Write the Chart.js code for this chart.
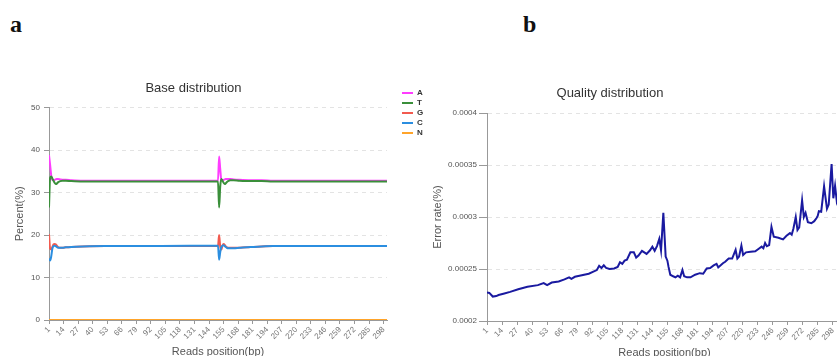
<!DOCTYPE html>
<html lang="en">

<head>
  <meta charset="UTF-8">
  <title>Base and quality distribution</title>
  <script src="https://cdn.jsdelivr.net/npm/chart.js"></script>
  <style>
    html, body { margin: 0; padding: 0; width: 837px; height: 356px; overflow: hidden; background: #fff; }
    .tag { position: absolute; font: bold 24px 'Liberation Serif', 'DejaVu Serif', serif; color: #111; line-height: 24px; }
    .box { position: absolute; }
  </style>
</head>

<body>
  <div class="tag" style="left:10px;top:12px">a</div>
  <div class="tag" style="left:523px;top:12px">b</div>
  <div class="box" style="left:-43px;top:70px;width:473px;height:300px"><canvas id="baseChart"></canvas></div>
  <div class="box" style="left:378px;top:70px;width:464px;height:301px"><canvas id="qualityChart"></canvas></div>
</body>

<script>
  // x tick labels (one every 13 positions)
  const xTickLabels = ['1', '14', '27', '40', '53', '66', '79', '92', '105', '118', '131', '144',
    '155', '168', '181', '194', '207', '220', '233', '246', '259', '272', '285', '298']

  // base distribution, position index along the read
  const basePos = [0, 1, 2, 3, 4, 5, 6, 7, 8, 10, 12, 15, 20, 30, 50, 100, 151, 152, 153, 154,
    155, 156, 157, 158, 159, 160, 162, 165, 170, 180, 190, 200, 250, 302]
  const baseA = [38.8, 36.5, 34.0, 33.0, 32.9, 33.0, 33.1, 33.2, 33.2, 33.1, 33.0, 33.0, 32.9, 32.8, 32.8, 32.8, 32.8, 38.5, 35.5, 33.0,
    32.9, 33.0, 33.1, 33.2, 33.2, 33.2, 33.2, 33.1, 33.0, 32.9, 32.9, 32.8, 32.8, 32.8]
  const baseT = [26.5, 33.5, 33.8, 33.3, 32.8, 32.3, 32.0, 32.1, 32.4, 32.7, 32.8, 32.8, 32.7, 32.6, 32.6, 32.6, 32.6, 26.5, 31.5, 33.2,
    32.8, 32.3, 32.0, 32.2, 32.5, 32.7, 32.9, 32.9, 32.8, 32.7, 32.7, 32.6, 32.6, 32.6]
  const baseG = [20.2, 16.8, 16.6, 17.2, 17.8, 17.9, 17.8, 17.5, 17.2, 17.0, 17.0, 17.1, 17.2, 17.3, 17.4, 17.4, 17.4, 20.0, 17.2, 16.6,
    17.5, 17.9, 17.7, 17.3, 17.1, 17.0, 17.0, 17.0, 17.0, 17.2, 17.3, 17.4, 17.4, 17.4]
  const baseC = [14.5, 14.0, 15.0, 16.8, 17.4, 17.5, 17.4, 17.2, 17.0, 17.0, 17.0, 17.1, 17.2, 17.3, 17.4, 17.4, 17.5, 14.2, 16.0, 17.2,
    17.5, 17.6, 17.4, 17.2, 17.0, 16.9, 16.9, 16.9, 17.0, 17.2, 17.3, 17.4, 17.4, 17.4]
  const baseN = [0, 0, 0, 0, 0, 0, 0, 0, 0, 0, 0, 0, 0, 0, 0, 0, 0, 0, 0, 0,
    0, 0, 0, 0, 0, 0, 0, 0, 0, 0, 0, 0, 0, 0]

  // quality distribution
  const qualityPos = [0, 2, 5, 8, 10, 15, 20, 27, 35, 44, 49, 52, 56, 62, 67, 71, 73, 76, 82, 88,
    92, 95, 97, 99, 101, 103, 106, 110, 113, 115, 117, 119, 121, 124, 127, 129, 131, 134, 136, 138,
    141, 143, 145, 147, 149, 150.5, 152.5, 154.5, 156, 157, 158.5, 161, 163, 165, 167, 169, 170.5, 173, 176, 180,
    184, 187, 190, 193, 196, 198.5, 200, 204, 206, 209, 212, 215, 216.5, 218, 220, 221.5, 224, 228, 232, 235,
    237.5, 239, 240.5, 242, 244, 246, 248, 252, 256, 259, 262, 263.5, 265, 267, 268.5, 270, 272.5, 274, 275.5, 277.5,
    280.5, 283, 285, 286, 287, 289, 291.5, 294, 295.5, 298, 299.5, 301, 302.5, 304, 307]
  const errorRate = [0.0002275, 0.000227, 0.0002235, 0.000224, 0.000225, 0.0002265, 0.000228, 0.0002305, 0.000233, 0.0002345,
    0.0002365, 0.0002345, 0.000237, 0.000238, 0.00024, 0.000242, 0.0002405, 0.0002425, 0.000244, 0.0002455,
    0.0002475, 0.000249, 0.000253, 0.000251, 0.0002535, 0.000251, 0.00025, 0.0002505, 0.000252, 0.0002565,
    0.000255, 0.000258, 0.000259, 0.000266, 0.000266, 0.000261, 0.000263, 0.0002675, 0.000266, 0.0002645,
    0.000268, 0.0002715, 0.0002675, 0.000272, 0.000279, 0.000268, 0.000304, 0.000262, 0.000258, 0.000252,
    0.0002445, 0.000243, 0.000242, 0.0002435, 0.000242, 0.000249, 0.000243, 0.000242, 0.000242, 0.0002445,
    0.000246, 0.0002455, 0.0002505, 0.000251, 0.0002535, 0.000255, 0.0002515, 0.0002555, 0.000257, 0.00026,
    0.00026, 0.0002685, 0.00026, 0.000262, 0.0002725, 0.0002635, 0.000266, 0.0002665, 0.000267, 0.0002695,
    0.0002715, 0.00027, 0.000275, 0.000272, 0.000273, 0.0002905, 0.000281, 0.00028, 0.0002785, 0.000282,
    0.0002845, 0.000283, 0.000289, 0.0003, 0.0002875, 0.00029, 0.000316, 0.0003, 0.000304, 0.000295,
    0.000294, 0.000296, 0.000299, 0.000301, 0.0003055, 0.000305, 0.0003295, 0.000308, 0.000312, 0.000351,
    0.000318, 0.00033, 0.000315, 0.00032, 0.000318]

  // order: lower is drawn on top (T over A, C over G)
  const baseSeries = [
    { label: 'A', values: baseA, color: '#ff3cff', order: 2 },
    { label: 'T', values: baseT, color: '#3a8f3a', order: 1 },
    { label: 'G', values: baseG, color: '#f25a4f', order: 2 },
    { label: 'C', values: baseC, color: '#2b8ee0', order: 1 },
    { label: 'N', values: baseN, color: '#ffa42a', order: 0 }
  ]

  Chart.defaults.font.family = "'Liberation Sans', Arial, sans-serif"
  Chart.defaults.color = '#666'

  const points = (xs, ys) => xs.map((x, i) => ({ x: x, y: ys[i] }))

  function xAxis(max) {
    return {
      type: 'linear', min: 0, max: max, bounds: 'data',
      ticks: {
        stepSize: 13, autoSkip: false, includeBounds: false, minRotation: 45, maxRotation: 45,
        color: '#777', font: { size: 8 }, padding: 1,
        callback: (v, i) => xTickLabels[i]
      },
      grid: { drawOnChartArea: false, tickLength: 4, tickColor: '#999' },
      border: { color: '#999', width: 1 },
      title: { display: true, text: 'Reads position(bp)', color: '#555', font: { size: 11 }, padding: { top: 0, bottom: 11.4 } },
      afterFit(s) { s.height = 50 }
    }
  }

  new Chart(document.getElementById('baseChart'), {
    type: 'line',
    data: {
      datasets: baseSeries.map(s => ({
        label: s.label,
        data: points(basePos, s.values),
        borderColor: s.color,
        backgroundColor: s.color,
        borderWidth: 2,
        pointRadius: 0,
        order: s.order,
        cubicInterpolationMode: 'monotone'
      }))
    },
    options: {
      animation: false,
      responsive: true,
      maintainAspectRatio: false,
      plugins: {
        title: { display: true, text: 'Base distribution', color: '#333', font: { size: 13, weight: 'normal' }, padding: { top: 11, bottom: 11 } },
        legend: {
          position: 'right', align: 'start', maxWidth: 30,
          title: { display: true, text: '', font: { size: 1, lineHeight: 1 }, padding: { top: 16, bottom: 0 } },
          labels: {
            usePointStyle: true, pointStyle: 'line', pointStyleWidth: 11, padding: 2, color: '#333', font: { size: 8, weight: 'bold' },
            sort: (a, b) => a.datasetIndex - b.datasetIndex
          }
        },
        tooltip: { enabled: false }
      },
      scales: {
        x: xAxis(302),
        y: {
          min: 0, max: 50,
          ticks: { stepSize: 10, color: '#555', font: { size: 8 }, padding: 4 },
          grid: { color: '#e3e3e3', tickColor: '#999', tickLength: 5 },
          border: { color: '#999', width: 1, dash: [4, 4] },
          title: { display: true, text: 'Percent(%)', color: '#555', font: { size: 11 }, padding: { top: 56.4, bottom: 0 } },
          afterFit(s) { s.width = 92 }
        },
        gap: {
          position: 'right', display: true,
          ticks: { display: false }, grid: { display: false }, border: { display: false },
          afterFit(s) { s.width = 13 }
        }
      }
    }
  })

  new Chart(document.getElementById('qualityChart'), {
    type: 'line',
    data: {
      datasets: [{
        label: 'Error rate',
        data: points(qualityPos, errorRate),
        borderColor: '#1a1aa0',
        borderWidth: 2,
        pointRadius: 0,
        tension: 0
      }]
    },
    options: {
      animation: false,
      responsive: true,
      maintainAspectRatio: false,
      plugins: {
        title: { display: true, text: 'Quality distribution', color: '#333', font: { size: 13, weight: 'normal' }, padding: { top: 15.7, bottom: 11.7 } },
        legend: { display: false },
        tooltip: { enabled: false }
      },
      scales: {
        x: xAxis(307),
        y: {
          min: 0.0002, max: 0.0004,
          ticks: { stepSize: 0.00005, color: '#555', font: { size: 8 }, padding: 2, callback: v => String(Number(v.toFixed(5))) },
          grid: { color: '#e3e3e3', tickColor: '#999', tickLength: 8 },
          border: { color: '#999', width: 1, dash: [4, 4] },
          title: { display: true, text: 'Error rate(%)', color: '#555', font: { size: 11 }, padding: { top: 53.4, bottom: 0 } },
          afterFit(s) { s.width = 109 }
        }
      }
    }
  })
</script>

</html>
